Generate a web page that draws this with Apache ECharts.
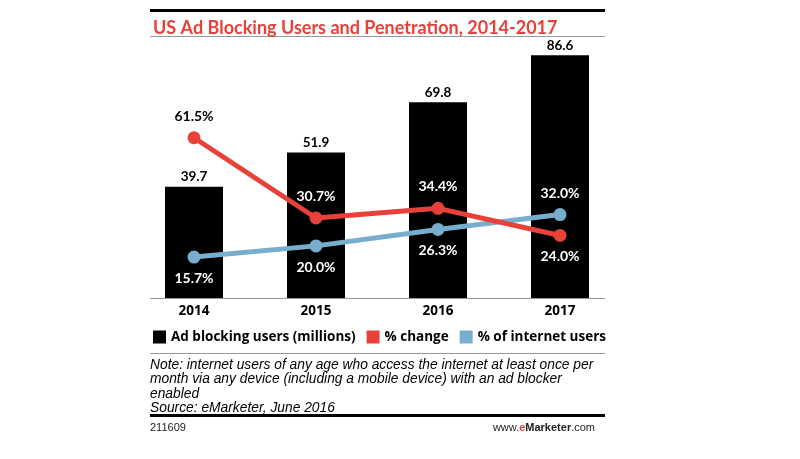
<!DOCTYPE html>
<html>
<head>
<meta charset="utf-8">
<script src="https://cdn.jsdelivr.net/npm/echarts@6/dist/echarts.min.js"></script>
<style>html,body{margin:0;padding:0;background:#fff;}#c{width:800px;height:459px;}</style>
</head>
<body>
<div id="c"></div>
<script>
var categories = ['2014', '2015', '2016', '2017'];
var adBlockingUsers = [39.7, 51.9, 69.8, 86.6];
var pctChange = [61.5, 30.7, 34.4, 24.0];
var pctInternetUsers = [15.7, 20.0, 26.3, 32.0];
var changeLabelPos = ['top', 'top', 'top', 'bottom'];
var internetLabelPos = ['bottom', 'bottom', 'bottom', 'top'];
var changeLabelColor = ['#000', '#fff', '#fff', '#fff'];

var RED = '#e8413a', BLUE = '#78aecd';
var F = 'Lato, "Open Sans", sans-serif';
var FN = '"Liberation Sans", Arial, sans-serif';

var chart = echarts.init(document.getElementById('c'));
chart.setOption({
  animation: false,
  title: {
    text: 'US Ad Blocking Users and Penetration, 2014-2017',
    left: 148, top: 14,
    textStyle: { color: RED, fontFamily: F, fontWeight: 'bold', fontSize: 18 }
  },
  legend: {
    left: 148, top: 325, itemGap: 11, itemWidth: 13, itemHeight: 13,
    icon: 'rect',
    textStyle: { fontFamily: '"Open Sans", sans-serif', fontWeight: 'bold', fontSize: 13.5, color: '#000' },
    data: [
      { name: 'Ad blocking users (millions)', itemStyle: { color: '#000' } },
      { name: '% change', itemStyle: { color: RED } },
      { name: '% of internet users', itemStyle: { color: BLUE } }
    ]
  },
  grid: { left: 133, right: 179, top: 40, bottom: 161 },
  xAxis: {
    type: 'category', data: categories,
    axisLine: { show: false }, axisTick: { show: false },
    axisLabel: { color: '#000', fontFamily: '"Open Sans", sans-serif', fontWeight: 'bold', fontSize: 13.5, margin: 6 }
  },
  yAxis: [
    { type: 'value', min: 0, max: 92, show: false },
    { type: 'value', min: 0, max: 99, show: false }
  ],
  series: [
    {
      name: 'Ad blocking users (millions)', type: 'bar', data: adBlockingUsers,
      barWidth: 58, itemStyle: { color: '#000' }, z: 1,
      label: { show: true, position: 'top', distance: 3, color: '#000', fontFamily: F, fontWeight: 'bold', fontSize: 13.5,
        formatter: function (p) { return p.value.toFixed(1); } }
    },
    {
      name: '% of internet users', type: 'line', yAxisIndex: 1,
      data: pctInternetUsers.map(function (v, i) {
        return { value: v, label: { position: internetLabelPos[i] } };
      }),
      symbol: 'circle', symbolSize: 13, z: 3,
      lineStyle: { color: BLUE, width: 5 }, itemStyle: { color: BLUE },
      label: { show: true, distance: 8, color: '#fff', fontFamily: F, fontWeight: 'bold', fontSize: 14,
        formatter: function (p) { return p.value.toFixed(1) + '%'; } }
    },
    {
      name: '% change', type: 'line', yAxisIndex: 1,
      data: pctChange.map(function (v, i) {
        return { value: v, label: { position: changeLabelPos[i], color: changeLabelColor[i] } };
      }),
      symbol: 'circle', symbolSize: 13, z: 4,
      lineStyle: { color: RED, width: 5 }, itemStyle: { color: RED },
      label: { show: true, distance: 8, fontFamily: F, fontWeight: 'bold', fontSize: 14,
        formatter: function (p) { return p.value.toFixed(1) + '%'; } }
    }
  ],
  graphic: [
    { type: 'rect', shape: { x: 150, y: 9, width: 455, height: 3 }, style: { fill: '#000' } },
    { type: 'rect', shape: { x: 150, y: 36, width: 455, height: 1 }, style: { fill: '#999' } },
    { type: 'rect', shape: { x: 150, y: 298, width: 455, height: 1 }, style: { fill: '#999' }, z: 10 },
    { type: 'rect', shape: { x: 150, y: 353, width: 455, height: 1 }, style: { fill: '#999' } },
    { type: 'text', left: 150, top: 358, style: {
        text: 'Note: internet users of any age who access the internet at least once per\nmonth via any device (including a mobile device) with an ad blocker\nenabled\nSource: eMarketer, June 2016',
        fill: '#000', fontFamily: FN, fontStyle: 'italic', fontSize: 13.8, lineHeight: 14.3 } },
    { type: 'rect', shape: { x: 150, y: 414, width: 455, height: 3 }, style: { fill: '#000' } },
    { type: 'text', left: 150, top: 422, style: { text: '211609', fill: '#222', fontFamily: FN, fontSize: 11 } },
    { type: 'text', right: 205, top: 422, style: {
        text: '{a|www.}{b|e}{c|Marketer}{a|.com}',
        rich: {
          a: { fill: '#222', fontFamily: FN, fontSize: 11 },
          b: { fill: RED, fontFamily: FN, fontSize: 11, fontWeight: 'bold' },
          c: { fill: '#222', fontFamily: FN, fontSize: 11, fontWeight: 'bold' }
        } } }
  ]
});
</script>
</body>
</html>
